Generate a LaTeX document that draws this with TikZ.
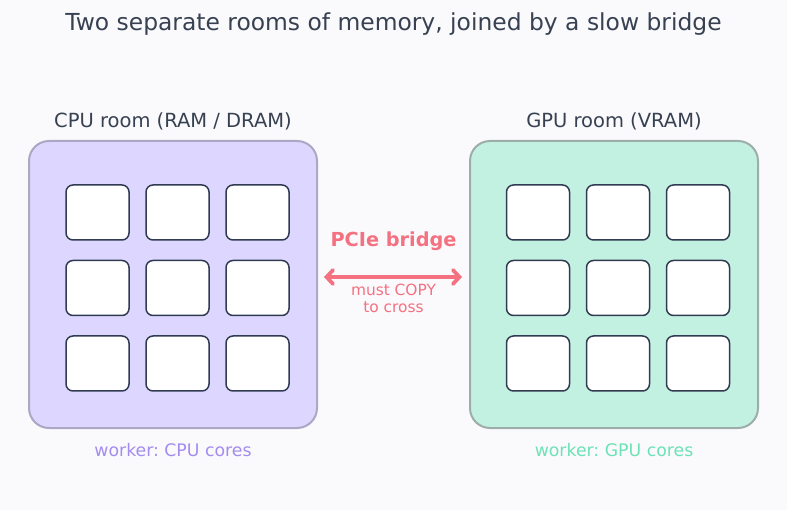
\documentclass[tikz,border=0pt]{standalone}
\usepackage{fontspec}
\setmainfont{DejaVu Sans}
\usetikzlibrary{arrows.meta}
\frenchspacing

\definecolor{bgcol}{HTML}{FAFAFD}
\definecolor{inkcol}{HTML}{374151}
\definecolor{cpufill}{HTML}{DDD6FE}
\definecolor{cpuedge}{HTML}{ABA7C4}
\definecolor{gpufill}{HTML}{C3F1E1}
\definecolor{gpuedge}{HTML}{9DAEA9}
\definecolor{celledge}{HTML}{303B52}
\definecolor{bridgecol}{HTML}{F47181}
\definecolor{cpuword}{HTML}{A48CEE}
\definecolor{gpuword}{HTML}{6EE2B5}

\tikzset{
    room/.style={rounded corners=20pt, line width=2pt, minimum width=288pt, minimum height=287pt},
    core/.style={draw=celledge, fill=white, rounded corners=7pt, line width=1.5pt,
        minimum width=63pt, minimum height=55pt},
    roomlabel/.style={text=inkcol, font=\fontsize{19.5}{23}\selectfont},
    worker/.style={font=\fontsize{17.3}{20}\selectfont}
}

\begin{document}
\begin{tikzpicture}[x=1pt, y=-1pt]
    % Page
    \fill[bgcol] (0,0) rectangle (787,510);
    \useasboundingbox (0,0) rectangle (787,510);

    % Title
    \node[text=inkcol, font=\fontsize{23.4}{27}\selectfont] (title) at (393.5,24) {Two separate rooms of memory, joined by a slow bridge};

    % Rooms
    \node[room, draw=cpuedge, fill=cpufill] (cpu) at (173,284.5) {};
    \node[room, draw=gpuedge, fill=gpufill] (gpu) at (614,284.5) {};
    \node[roomlabel] (cpulabel) at (173,121) {CPU room (RAM / DRAM)};
    \node[roomlabel] (gpulabel) at (614,121) {GPU room (VRAM)};

    % Cores, 3 x 3 in each room
    \foreach \r in {0,1,2} {
        \foreach \c in {0,1,2} {
            \node[core] (cpu-\r-\c) at (97.5+\c*80,212.5+\r*75.5) {};
            \node[core] (gpu-\r-\c) at (538+\c*80,212.5+\r*75.5) {};
        }
    }

    % Workers
    \node[worker, text=cpuword] (cpuworker) at (173,450) {worker: CPU cores};
    \node[worker, text=gpuword] (gpuworker) at (614,450) {worker: GPU cores};

    % Bridge
    \draw[bridgecol, line width=3.8pt, line cap=round,
        {Straight Barb[length=6.5pt, width=14pt, line cap=round]}-{Straight Barb[length=6.5pt, width=14pt, line cap=round]},
        shorten <=6pt, shorten >=7pt]
        ([yshift=7.5pt]cpu.east) -- ([yshift=7.5pt]gpu.west);
    \node[text=bridgecol, font=\fontsize{19.3}{22}\selectfont\bfseries] (bridge) at (393.5,241) {PCIe bridge};
    \node[text=bridgecol, font=\fontsize{15.4}{17}\selectfont, align=center] (copy) at (393.5,298) {must COPY\\to cross};
\end{tikzpicture}
\end{document}
